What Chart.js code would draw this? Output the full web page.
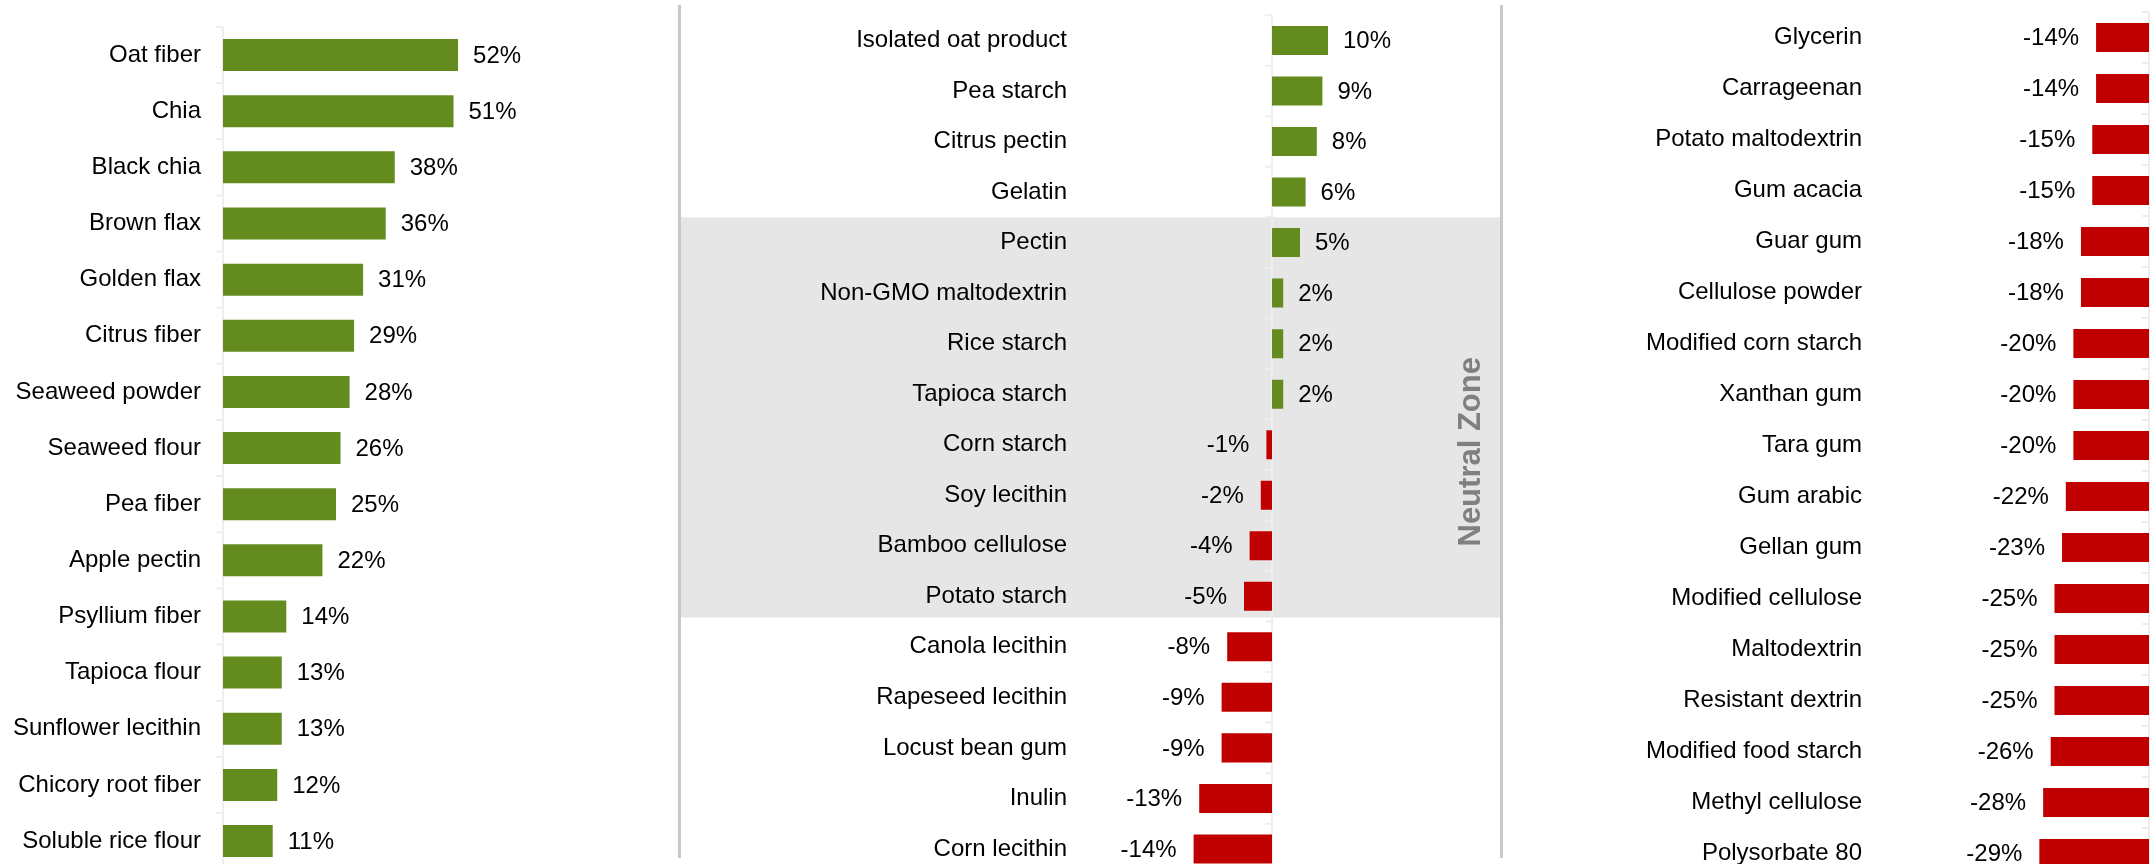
<!DOCTYPE html>
<html>
<head>
<meta charset="utf-8">
<script src="https://cdn.jsdelivr.net/npm/chart.js@4.4.1/dist/chart.umd.min.js"></script>
<style>
    html, body { margin: 0; padding: 0; background: #fff; width: 2151px; height: 864px; overflow: hidden; }
    canvas { position: absolute; top: 0; }
    .sep { position: absolute; top: 5px; height: 853px; width: 3px; background: #c8c8c8; z-index: 2; }
</style>
</head>
<body>
<canvas id="chart1" width="676" height="900" style="left:0px"></canvas>
<canvas id="chart2" width="822" height="900" style="left:681px"></canvas>
<canvas id="chart3" width="647" height="900" style="left:1504px"></canvas>
<div class="sep" style="left:678px"></div>
<div class="sep" style="left:1500px"></div>
<script>
const labelsChart1 = ['Oat fiber', 'Chia', 'Black chia', 'Brown flax', 'Golden flax', 'Citrus fiber', 'Seaweed powder',
    'Seaweed flour', 'Pea fiber', 'Apple pectin', 'Psyllium fiber', 'Tapioca flour', 'Sunflower lecithin',
    'Chicory root fiber', 'Soluble rice flour']
const valuesChart1 = [52, 51, 38, 36, 31, 29, 28, 26, 25, 22, 14, 13, 13, 12, 11]

const labelsChart2 = ['Isolated oat product', 'Pea starch', 'Citrus pectin', 'Gelatin', 'Pectin', 'Non-GMO maltodextrin',
    'Rice starch', 'Tapioca starch', 'Corn starch', 'Soy lecithin', 'Bamboo cellulose', 'Potato starch',
    'Canola lecithin', 'Rapeseed lecithin', 'Locust bean gum', 'Inulin', 'Corn lecithin']
const valuesChart2 = [10, 9, 8, 6, 5, 2, 2, 2, -1, -2, -4, -5, -8, -9, -9, -13, -14]

const labelsChart3 = ['Glycerin', 'Carrageenan', 'Potato maltodextrin', 'Gum acacia', 'Guar gum', 'Cellulose powder',
    'Modified corn starch', 'Xanthan gum', 'Tara gum', 'Gum arabic', 'Gellan gum', 'Modified cellulose',
    'Maltodextrin', 'Resistant dextrin', 'Modified food starch', 'Methyl cellulose', 'Polysorbate 80']
const valuesChart3 = [-14, -14, -15, -15, -18, -18, -20, -20, -20, -22, -23, -25, -25, -25, -26, -28, -29]

// rows of the neutral zone in chart 2 (Pectin .. Potato starch)
const neutralFirst = 4
const neutralLast = 11

const GREEN = '#648b1e'
const RED = '#c00000'
const FONT = '"Liberation Sans", Arial, sans-serif'

const valueLabels = {
    id: 'valueLabels',
    afterDatasetsDraw(chart) {
        const ctx = chart.ctx
        const data = chart.data.datasets[0].data
        ctx.save()
        ctx.font = '24px ' + FONT
        ctx.fillStyle = '#000'
        ctx.textBaseline = 'middle'
        chart.getDatasetMeta(0).data.forEach((bar, i) => {
            if (data[i] >= 0) {
                ctx.textAlign = 'left'
                ctx.fillText(data[i] + '%', bar.x + 15, bar.y + 1)
            } else {
                ctx.textAlign = 'right'
                ctx.fillText(data[i] + '%', bar.x - 17, bar.y + 1)
            }
        })
        ctx.restore()
    }
}

const zeroAxis = {
    id: 'zeroAxis',
    beforeDatasetsDraw(chart) {
        const {ctx, chartArea, scales: {x, y}} = chart
        const x0 = x.getPixelForValue(0)
        ctx.save()
        ctx.strokeStyle = '#eeeeee'
        ctx.lineWidth = 2
        ctx.beginPath()
        ctx.moveTo(x0, chartArea.top)
        ctx.lineTo(x0, chartArea.bottom)
        for (let i = 0; i <= y.ticks.length; i++) {
            const yy = y.getPixelForValue(i - 0.5)
            ctx.moveTo(x0 - 7, yy)
            ctx.lineTo(x0, yy)
        }
        ctx.stroke()
        ctx.restore()
    }
}

const neutralZone = {
    id: 'neutralZone',
    beforeDraw(chart) {
        const {ctx, width, scales: {y}} = chart
        const top = y.getPixelForValue(neutralFirst - 0.5)
        const bottom = y.getPixelForValue(neutralLast + 0.42)
        ctx.save()
        ctx.fillStyle = '#e6e6e6'
        ctx.fillRect(0, top, width, bottom - top)
        ctx.restore()
    },
    afterDraw(chart) {
        const {ctx, chartArea, scales: {y}} = chart
        ctx.save()
        ctx.translate(chartArea.right - 25, y.getPixelForValue(8.14))
        ctx.rotate(-Math.PI / 2)
        ctx.font = 'bold 31px ' + FONT
        ctx.fillStyle = '#808080'
        ctx.textAlign = 'center'
        ctx.textBaseline = 'middle'
        ctx.fillText('Neutral Zone', 0, 0)
        ctx.restore()
    }
}

function makeChart(id, labels, values, opts) {
    const ctx = document.querySelector(id).getContext('2d')
    return new Chart(ctx, {
        type: 'bar',
        data: {
            labels: labels,
            datasets: [{
                data: values,
                backgroundColor: values.map(v => v >= 0 ? GREEN : RED),
                categoryPercentage: 1,
                barPercentage: opts.barPct
            }]
        },
        options: {
            indexAxis: 'y',
            responsive: false,
            animation: false,
            devicePixelRatio: 1,
            layout: {
                padding: opts.padding
            },
            scales: {
                x: {
                    display: false,
                    min: opts.min,
                    max: opts.max
                },
                y: {
                    // gap between label and chart area comes from the (hidden) tick length
                    grid: { display: false, drawTicks: true, tickLength: opts.labelGap },
                    border: { display: false },
                    ticks: {
                        padding: 0,
                        color: '#000',
                        font: { family: FONT, size: 24, lineHeight: 1 }
                    },
                    afterFit(scale) {
                        scale.width = opts.axisWidth
                    }
                }
            },
            plugins: {
                legend: { display: false },
                tooltip: { enabled: false }
            }
        },
        plugins: opts.plugins
    })
}

makeChart('#chart1', labelsChart1, valuesChart1, {
    min: 0, max: 100, barPct: 0.57, labelGap: 22, axisWidth: 223,
    padding: { top: 27, bottom: 30.9, left: 0, right: 1 },
    plugins: [zeroAxis, valueLabels]
})

makeChart('#chart2', labelsChart2, valuesChart2, {
    min: -35, max: 40, barPct: 0.574, labelGap: 9, axisWidth: 395,
    padding: { top: 15.2, bottom: 25.8, left: 0, right: 7 },
    plugins: [neutralZone, zeroAxis, valueLabels]
})

makeChart('#chart3', labelsChart3, valuesChart3, {
    min: -73, max: 0, barPct: 0.569, labelGap: 11, axisWidth: 369,
    padding: { top: 12, bottom: 21, left: 0, right: 2 },
    plugins: [zeroAxis, valueLabels]
})
</script>
</body>
</html>
